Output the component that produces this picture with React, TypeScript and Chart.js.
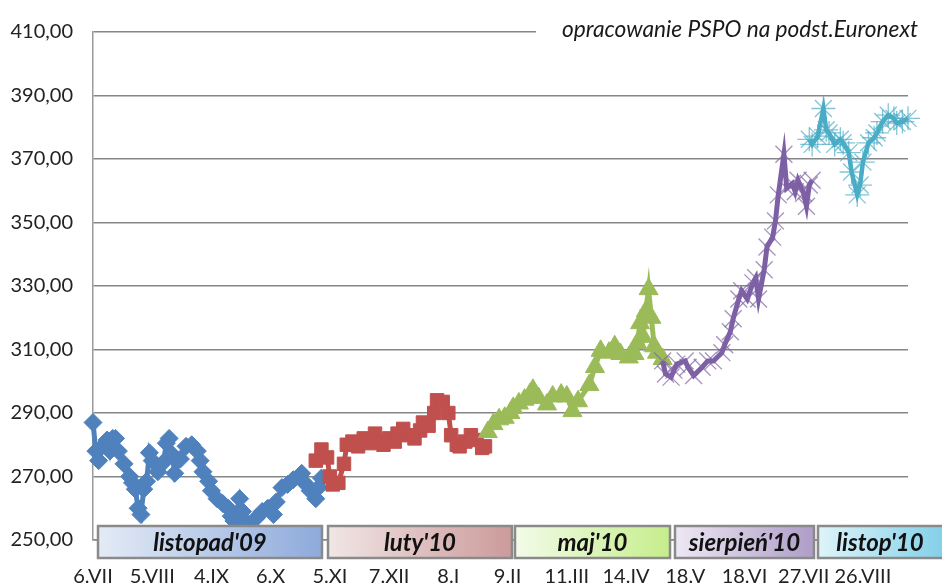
import React, { useEffect, useRef } from 'react';
import { Chart, registerables } from 'chart.js';

Chart.register(...registerables);

// ---- data (x = trading-day index from 6.VII.2009) ----
const tickLabels = ['6.VII', '5.VIII', '4.IX', '6.X', '5.XI', '7.XII', '8.I', '9.II', '11.III', '14.IV', '18.V', '18.VI', '27.VII', '26.VIII'];
const tickStep = 21;
const xMax = 289;
const contractNames = ["listopad'09", "luty'10", "maj'10", "sierpień'10", "listop'10"];
const sourceNote = 'opracowanie PSPO na podst.Euronext';

const blueX = [0, 1, 2, 4, 5, 6, 7, 8, 9, 11, 13, 14, 15, 16, 17, 18, 19, 20, 21, 23, 25, 26, 27, 28, 29, 31, 33, 35, 37, 38, 39, 41, 42, 44, 46, 48, 49, 50, 52, 53, 54, 56, 58, 60, 62, 64, 65, 67, 69, 71, 74, 75, 77, 79, 80, 81];
const blueY = [287, 278, 275, 280, 281.5, 278, 282, 282, 278, 274, 270, 268, 266, 260, 258, 266, 268.5, 277.5, 275, 271.5, 274.5, 280.5, 282, 277, 271, 275.5, 279.5, 280, 278, 275, 271.5, 268.5, 265.5, 263, 261.5, 260, 257.5, 256, 263, 259, 256, 254, 257, 259, 260, 258, 262, 266.5, 267.5, 269, 271, 268, 265.5, 263, 266.5, 269.5];

const redX = [79, 81, 83, 84, 85, 87, 89, 90, 92, 94, 96, 98, 100, 101, 103, 105, 107, 108, 110, 112, 114, 116, 117, 119, 121, 122, 124, 126, 127, 129, 130, 132, 134, 136, 138, 139];
const redY = [275, 278.5, 276, 270, 267.5, 268, 274, 280, 281, 279.5, 282, 280.5, 283.5, 281, 280, 282, 281, 283.5, 285, 283, 282, 284.5, 287, 286, 290, 294, 293.5, 290, 283, 280, 279.5, 281, 283, 281.5, 279, 279.5];

const greenX = [140, 142, 144, 146, 148, 149, 151, 153, 155, 156, 158, 161, 163, 166, 168, 170, 172, 176, 178, 180, 183, 185, 187, 190, 192, 193, 194, 195, 196, 197, 198, 199, 200, 202];
const greenY = [284, 286.5, 288, 288.5, 290, 291.6, 293, 294.2, 296, 297.3, 294.7, 292.7, 295.2, 295.8, 295.2, 290.6, 293.7, 298.8, 304.5, 309.6, 309, 311, 308.6, 307.5, 308.6, 312, 318.3, 314, 322, 329, 320, 311, 309, 307];

const purpleX = [202, 203, 205, 206, 207, 210, 211, 213, 216, 218, 220, 223, 224, 226, 227, 229, 230, 232, 234, 235, 236, 238, 239, 241, 242, 243, 245, 246, 248, 249, 250, 252, 253, 254, 255];
const purpleY = [306.4, 302.3, 301.3, 303.5, 305.4, 306.4, 304.4, 301.8, 304.4, 306.4, 306.4, 309, 311.5, 315.6, 319.7, 325.9, 328.5, 325.9, 331, 332.6, 325.9, 335.1, 342.3, 345.4, 350.5, 358.7, 371.5, 360.8, 362.3, 359.7, 363.3, 359.2, 355.1, 361.8, 363.3];

const cyanX = [254, 255, 257, 259, 260, 261, 263, 265, 266, 268, 269, 271, 272, 273, 275, 277, 278, 280, 282, 284, 285, 287, 289];
const cyanY = [376.2, 374.6, 377.2, 385.9, 379.2, 378.2, 374.6, 376.2, 375.1, 372, 365.9, 358.7, 361.8, 369, 375.1, 376.7, 378.2, 381.8, 383.8, 382.8, 381.3, 381.8, 382.8];

const pts = (xs: number[], ys: number[]) => xs.map((x, i) => ({ x, y: ys[i] }));

const contractPlugin = {
  id: 'contracts',
  afterDraw(chart: any) {
    const ctx: CanvasRenderingContext2D = chart.ctx;
    ctx.save();
    // source note with white backing
    ctx.fillStyle = '#ffffff';
    ctx.fillRect(536, 2, 406, 48);
    ctx.font = 'italic 18px Lato';
    const w = ctx.measureText(sourceNote).width;
    const fs = (18 * 356) / w;
    ctx.font = `italic ${fs.toFixed(2)}px Lato`;
    ctx.fillStyle = '#1a1a1a';
    ctx.textBaseline = 'alphabetic';
    ctx.textAlign = 'left';
    ctx.fillText(sourceNote, 562, 37);

    // contract boxes
    const boxes = [
      [98, 322, '#e4ebf6', '#8eaadb'],
      [328, 512, '#f1e6e6', '#cc9a9a'],
      [515, 670, '#f2fbe8', '#c6ed8c'],
      [675, 814, '#eee8f3', '#ae9dc8'],
      [818, 944, '#def4f9', '#82d0e9'],
    ];
    const top = 526;
    const bottom = 558;
    boxes.forEach((b, i) => {
      const x0 = b[0] as number;
      const x1 = b[1] as number;
      const g = ctx.createLinearGradient(x0, 0, x1, 0);
      g.addColorStop(0, b[2] as string);
      g.addColorStop(1, b[3] as string);
      ctx.fillStyle = g;
      ctx.fillRect(x0, top, x1 - x0, bottom - top);
      ctx.lineWidth = 2.5;
      ctx.strokeStyle = '#8a8a8a';
      ctx.strokeRect(x0, top, x1 - x0, bottom - top);
      ctx.font = 'italic bold 24px Lato';
      ctx.fillStyle = '#111111';
      ctx.textAlign = 'center';
      ctx.textBaseline = 'middle';
      const cx = i === 4 ? 880 : (x0 + x1) / 2;
      ctx.fillText(contractNames[i], cx, (top + bottom) / 2 + 1);
    });
    ctx.restore();
  },
};

export default function App() {
  const ref = useRef<HTMLCanvasElement | null>(null);
  useEffect(() => {
    document.body.style.margin = '0';
    if (!ref.current) return;
    const tickPositions = tickLabels.map((_, k) => k * tickStep);
    const common = { showLine: true, clip: false as any, tension: 0 };
    const chart = new Chart(ref.current, {
      type: 'line',
      data: {
        datasets: [
          {
            ...common,
            label: contractNames[0],
            data: pts(blueX, blueY),
            borderColor: '#4F81BD',
            backgroundColor: '#4F81BD',
            pointBackgroundColor: '#4F81BD',
            pointBorderColor: '#4F81BD',
            pointStyle: 'rectRot',
            pointRadius: 9,
            pointBorderWidth: 1,
            borderWidth: 5,
            order: 5,
          },
          {
            ...common,
            label: contractNames[1],
            data: pts(redX, redY),
            borderColor: '#C0504D',
            backgroundColor: '#C0504D',
            pointBackgroundColor: '#C0504D',
            pointBorderColor: '#C0504D',
            pointStyle: 'rect',
            pointRadius: 9.5,
            pointBorderWidth: 1,
            borderWidth: 5,
            order: 4,
          },
          {
            ...common,
            label: contractNames[2],
            data: pts(greenX, greenY),
            borderColor: '#9BBB59',
            backgroundColor: '#9BBB59',
            pointBackgroundColor: '#9BBB59',
            pointBorderColor: '#9BBB59',
            pointStyle: 'triangle',
            pointRadius: 11,
            pointBorderWidth: 1,
            borderWidth: 5,
            order: 3,
          },
          {
            ...common,
            label: contractNames[3],
            data: pts(purpleX, purpleY),
            borderColor: '#7D5FA6',
            backgroundColor: '#7D5FA6',
            pointBackgroundColor: 'rgba(0,0,0,0)',
            pointBorderColor: 'rgba(128,100,162,0.7)',
            pointStyle: 'crossRot',
            pointRadius: 12,
            pointBorderWidth: 1.3,
            borderWidth: 5,
            order: 2,
          },
          {
            ...common,
            label: contractNames[4],
            data: pts(cyanX, cyanY),
            borderColor: '#4BACC6',
            backgroundColor: '#4BACC6',
            pointBackgroundColor: 'rgba(0,0,0,0)',
            pointBorderColor: 'rgba(75,172,198,0.7)',
            pointStyle: 'star',
            pointRadius: 12,
            pointBorderWidth: 1.3,
            borderWidth: 4.5,
            order: 1,
          },
        ],
      },
      options: {
        animation: false,
        responsive: false,
        maintainAspectRatio: false,
        layout: { padding: { top: 20, right: 34, left: 0, bottom: 0 } },
        plugins: { legend: { display: false }, tooltip: { enabled: false } },
        scales: {
          x: {
            type: 'linear',
            min: 0,
            max: xMax,
            grid: { display: false, drawTicks: false },
            border: { display: true, color: '#868686', width: 1.5 },
            afterBuildTicks: (s: any) => {
              s.ticks = tickPositions.map((v) => ({ value: v }));
            },
            afterFit: (s: any) => {
              s.height = 44;
            },
            ticks: {
              autoSkip: false,
              maxRotation: 0,
              minRotation: 0,
              padding: 25,
              color: '#222222',
              font: { family: 'Lato', size: 20 },
              callback: (_v: any, i: number) => tickLabels[i],
            },
          },
          y: {
            min: 250,
            max: 410,
            grid: { color: '#868686', lineWidth: 1.5, drawTicks: false },
            border: { display: true, color: '#9a9a9a', width: 1.5 },
            afterFit: (s: any) => {
              s.width = 93;
            },
            ticks: {
              stepSize: 20,
              padding: 20,
              color: '#222222',
              font: { family: 'Lato', size: 20 },
              callback: (v: any) => Number(v).toFixed(2).replace('.', ','),
            },
          },
        },
      },
      plugins: [contractPlugin],
    } as any);
    return () => chart.destroy();
  }, []);
  return (
    <div style={{ width: 942, height: 584, position: 'relative' }}>
      <canvas ref={ref} width={942} height={584} style={{ display: 'block' }} />
    </div>
  );
}
